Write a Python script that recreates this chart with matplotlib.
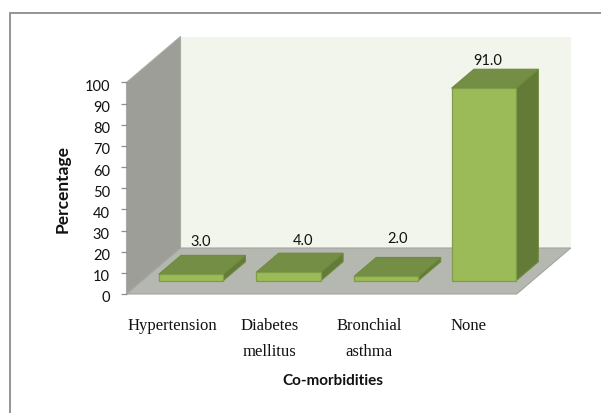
import matplotlib
matplotlib.use('Agg')
import matplotlib.pyplot as plt
from matplotlib.patches import Polygon, Rectangle
from matplotlib.transforms import ScaledTranslation
import numpy as np

categories = ['Hypertension', 'Diabetes\nmellitus', 'Bronchial\nasthma', 'None']
values = [3.0, 4.0, 2.0, 91.0]
y_ticks = [0, 10, 20, 30, 40, 50, 60, 70, 80, 90, 100]

W, H = 601, 414
fig = plt.figure(figsize=(W / 100, H / 100), dpi=100, facecolor='white')

# frame around the chart
fig.add_artist(Rectangle((9.5 / W, -0.01), 600 / W, 1.01 - 13.5 / H, transform=fig.transFigure,
                         fc='none', ec='#8c8c8c', lw=1.3))

# front plane of the 3d box: 126.5..516.7 px wide, y=0 at 295 and y=100 at 83.5
ax = fig.add_axes([126.5 / W, 1 - 295 / H, 390.2 / W, 211.5 / H])
ax.patch.set_visible(False)
ax.set_xlim(-0.66, 3.337)
ax.set_ylim(0, 100)
for s in ax.spines.values():
    s.set_visible(False)

x_unit = 97.6      # px for one category
y_unit = 2.115     # px for one percent
depth = (54 / x_unit, 46 / y_unit)   # box depth in data units
x0, x1 = ax.get_xlim()

def poly(points, fc, ec='none', lw=0, z=1):
    ax.add_patch(Polygon(points, closed=True, fc=fc, ec=ec, lw=lw, zorder=z, clip_on=False))

dx, dy = depth
poly([(x0 + dx, dy), (x1 + dx, dy), (x1 + dx, 100 + dy), (x0 + dx, 100 + dy)], '#f2f5ec')
poly([(x0, 0), (x0 + dx, dy), (x0 + dx, 100 + dy), (x0, 100)], '#9c9e97', ec='#a8aaa4', lw=0.8)
poly([(x0, 0), (x1, 0), (x1 + dx, dy), (x0 + dx, dy)], '#b5b7b1', ec='#a3a5a0', lw=0.8)

# bars float a bit inside the floor
bar_w = 0.66
inset = 13.3 / 46
bar_depth = 19 / 46
label_nudge = [(-1, 7), (3, 6), (0, 12), (-7, 2)]
for i, v in enumerate(values):
    left = i - bar_w / 2
    right = i + bar_w / 2
    base = dy * inset
    ddx = dx * bar_depth
    ddy = dy * bar_depth
    edge = '#7f9c48'
    poly([(right, base), (right + ddx, base + ddy), (right + ddx, base + ddy + v), (right, base + v)],
         '#647a37', ec='#6f8a3e', lw=0.8, z=3)
    poly([(left, base + v), (right, base + v), (right + ddx, base + ddy + v), (left + ddx, base + ddy + v)],
         '#748f45', ec='#6f8a3e', lw=0.8, z=3)
    poly([(left, base), (right, base), (right, base + v), (left, base + v)],
         '#9bbb59', ec=edge, lw=0.9, z=4)
    ax.annotate('%.1f' % v, xy=(i + ddx / 2, base + ddy + v), xycoords='data', annotation_clip=False,
                xytext=(label_nudge[i][0] * 0.72, label_nudge[i][1] * 0.72), textcoords='offset points',
                ha='center', va='bottom', fontsize=10.5, family='Lato', color='#111111')

ax.set_yticks(y_ticks)
ax.tick_params(axis='y', length=4, width=0.9, color='#8f8f8f', pad=8, labelsize=10.5, labelcolor='#111111')
shift_down = ScaledTranslation(0, -2 / 100, fig.dpi_scale_trans)
for t in ax.get_yticklabels():
    t.set_family('Lato')
    t.set_transform(t.get_transform() + shift_down)

label_shift = [-0.19, -0.195, -0.175, -0.16]
ax.set_xticks(np.arange(len(categories)) + np.array(label_shift))
ax.set_xticklabels(categories, family='Liberation Serif', fontsize=12, color='#111111', linespacing=1.85)
ax.tick_params(axis='x', length=0, pad=16.5)

fig.text(333 / W, 1 - 381 / H, 'Co-morbidities', ha='center', va='center', fontsize=11,
         fontweight='bold', family='Lato', color='#111111')
fig.text(63 / W, 1 - 189 / H, 'Percentage', ha='center', va='center', rotation=90, fontsize=12.5,
         fontweight='bold', family='Lato', color='#111111')

fig.savefig('out.png', dpi=100)
